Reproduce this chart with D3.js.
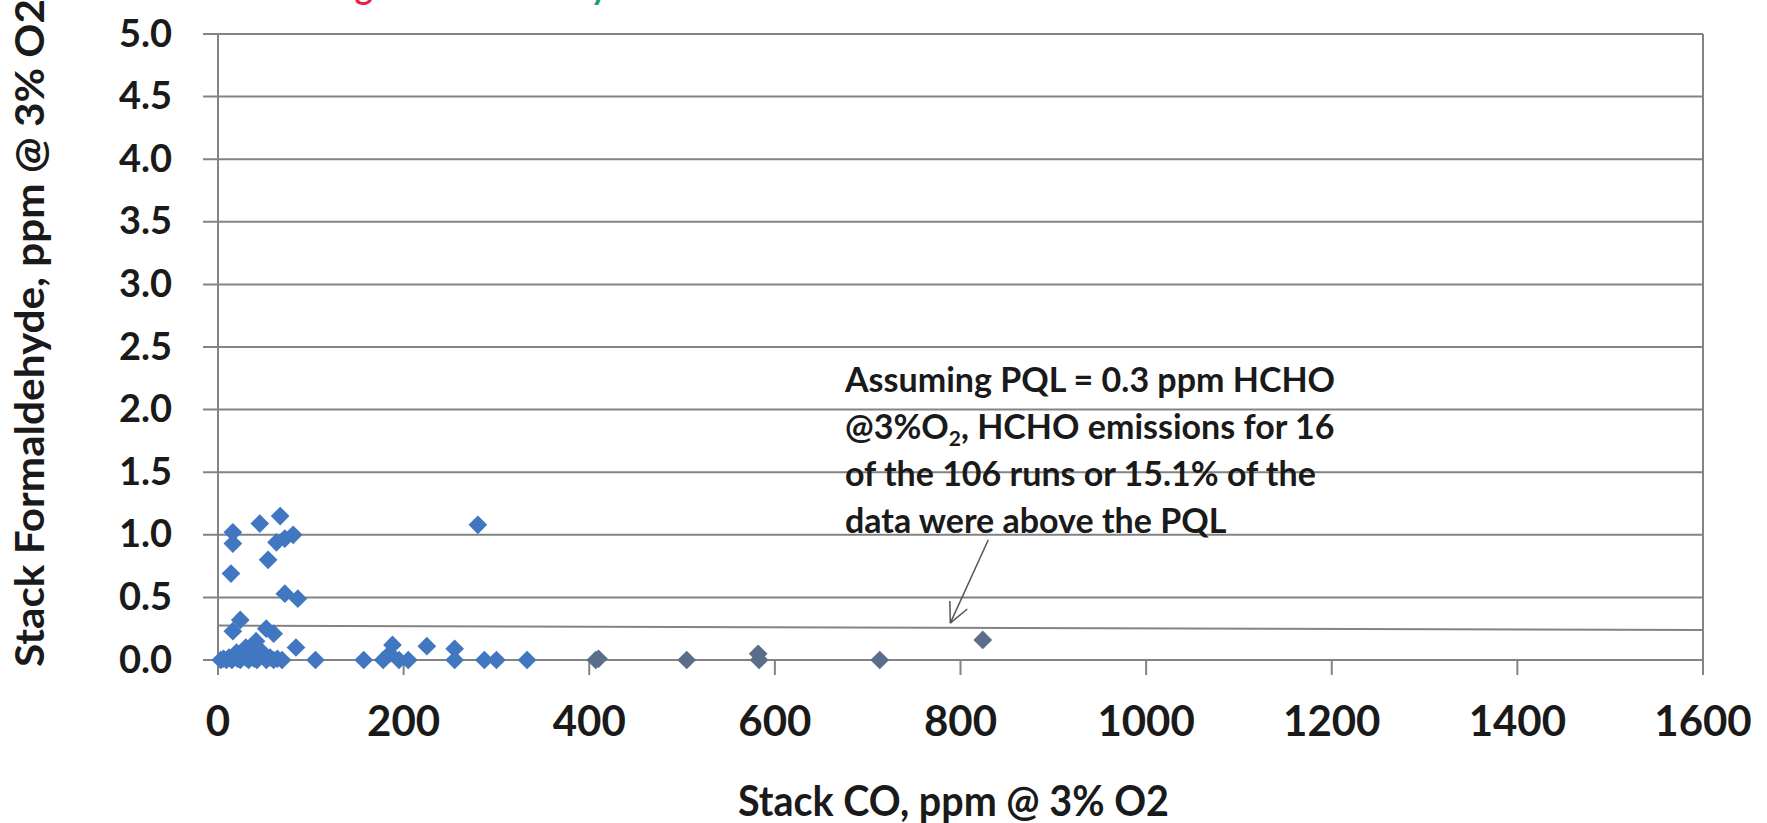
<!DOCTYPE html>
<html>
<head>
<meta charset="utf-8">
<script src="https://cdn.jsdelivr.net/npm/d3@7"></script>
<style>
  body { margin: 0; background: #ffffff; }
  svg { display: block; }
  text { font-family: Lato, 'Open Sans', sans-serif; font-weight: bold; fill: #1a1a1a; }
</style>
</head>
<body>
<svg id="chart" width="1767" height="823"></svg>
<script>
var xTicks = [0, 200, 400, 600, 800, 1000, 1200, 1400, 1600];
var yTicks = [0, 0.5, 1.0, 1.5, 2.0, 2.5, 3.0, 3.5, 4.0, 4.5, 5.0];

// stack CO (ppm @ 3% O2), stack formaldehyde (ppm @ 3% O2)
var runsLowCO = [
  [16, 1.02], [16, 0.93], [45, 1.09], [67, 1.15], [54, 0.80], [63, 0.94], [72, 0.97], [81, 1.00],
  [14, 0.69], [72, 0.53], [86, 0.49], [24, 0.32], [16, 0.23], [52, 0.25], [60, 0.21], [41, 0.15],
  [35, 0.08], [84, 0.10], [105, 0.0], [280, 1.08],
  [3, 0.0], [6, 0.01], [9, 0.0], [12, 0.02], [15, 0.0], [18, 0.03], [21, 0.01], [24, 0.0],
  [27, 0.04], [30, 0.02], [33, 0.0], [36, 0.05], [39, 0.01], [42, 0.0], [45, 0.03], [48, 0.06],
  [52, 0.0], [56, 0.02], [60, 0.0], [64, 0.01], [69, 0.0], [30, 0.10], [20, 0.06],
  [157, 0.0], [178, 0.0], [185, 0.05], [188, 0.12], [195, 0.0], [205, 0.0], [225, 0.11],
  [255, 0.09], [255, 0.0], [287, 0.0], [300, 0.0], [333, 0.0]
];
var runsHighCO = [[407, 0.0], [410, 0.01], [505, 0.0], [582, 0.05], [583, 0.0], [713, 0.0], [824, 0.16]];

var pqlLine = [[0, 0.275], [1600, 0.24]];
var arrowFrom = [830, 0.96];
var arrowTo = [789, 0.295];
var noteLines = [
  ['Assuming PQL = 0.3 ppm HCHO'],
  ['@3%O', '2', ', HCHO emissions for 16'],
  ['of the 106 runs or 15.1% of the'],
  ['data were above the PQL']
];

var xTitle = 'Stack CO, ppm @ 3% O2';
var yTitle = 'Stack Formaldehyde, ppm @ 3% O2';
var titleParts = ['Fig 2 - ', 'Formaldehyde Measurements vs. Stack CO at 3% O2 Correction'];

var svg = d3.select('#chart');
var plotLeft = 218, plotRight = 1703, plotTop = 34, plotBottom = 660;

var x = d3.scaleLinear().domain([0, 1600]).range([plotLeft, plotRight]);
var y = d3.scaleLinear().domain([0, 5]).range([plotBottom, plotTop]);

// title, cropped off the top of the picture: only descenders show
var title = svg.append('text').attr('x', 327).attr('y', -1).style('font-size', '34px');
title.append('tspan').style('fill', '#e0284f').text(titleParts[0]);
title.append('tspan').style('fill', '#1e9e6e').text(titleParts[1]);

svg.append('g')
   .selectAll('line')
   .data(yTicks)
   .enter().append('line')
   .attr('x1', plotLeft - 15).attr('x2', plotRight)
   .attr('y1', function(d) { return y(d); })
   .attr('y2', function(d) { return y(d); })
   .style('stroke', '#838383').style('stroke-width', 2);

svg.append('line')
   .attr('x1', plotLeft).attr('x2', plotLeft).attr('y1', plotTop).attr('y2', plotBottom)
   .style('stroke', '#838383').style('stroke-width', 2);
svg.append('line')
   .attr('x1', plotRight).attr('x2', plotRight).attr('y1', plotTop).attr('y2', plotBottom)
   .style('stroke', '#838383').style('stroke-width', 2);

svg.append('g')
   .selectAll('line')
   .data(xTicks)
   .enter().append('line')
   .attr('x1', function(d) { return x(d); })
   .attr('x2', function(d) { return x(d); })
   .attr('y1', plotBottom).attr('y2', plotBottom + 15)
   .style('stroke', '#838383').style('stroke-width', 2);

svg.append('g')
   .selectAll('text')
   .data(yTicks)
   .enter().append('text')
   .attr('x', 172)
   .attr('y', function(d) { return y(d); })
   .attr('dy', '0.33em')
   .attr('text-anchor', 'end')
   .style('font-size', '38px')
   .text(function(d) { return d3.format('.1f')(d); });

svg.append('g')
   .selectAll('text')
   .data(xTicks)
   .enter().append('text')
   .attr('x', function(d) { return x(d); })
   .attr('y', 736)
   .attr('text-anchor', 'middle')
   .style('font-size', '42px')
   .text(function(d) { return d; });

svg.append('text')
   .attr('x', 738).attr('y', 816)
   .attr('textLength', 431).attr('lengthAdjust', 'spacingAndGlyphs')
   .style('font-size', '42px')
   .text(xTitle);

svg.append('text')
   .attr('transform', 'translate(44,667) rotate(-90)')
   .attr('textLength', 668).attr('lengthAdjust', 'spacingAndGlyphs')
   .style('font-size', '40px')
   .text(yTitle);

var pql = d3.line()
  .x(function(d) { return x(d[0]); })
  .y(function(d) { return y(d[1]); });
svg.append('path')
   .attr('d', pql(pqlLine))
   .style('fill', 'none').style('stroke', '#838383').style('stroke-width', 2);

var diamond = d3.symbol().type(d3.symbolSquare).size(175);
function drawRuns(list, color) {
  svg.append('g')
     .selectAll('path')
     .data(list)
     .enter().append('path')
     .attr('d', diamond)
     .attr('transform', function(d) { return 'translate(' + x(d[0]) + ',' + y(d[1]) + ') rotate(45)'; })
     .style('fill', color);
}
drawRuns(runsLowCO, '#4077c0');
drawRuns(runsHighCO, '#5a6d8a');

// annotation and its arrow
var note = svg.append('g');
noteLines.forEach(function(parts, i) {
  var t = note.append('text').attr('x', 845).attr('y', 392 + i * 47).style('font-size', '34px');
  if (parts.length === 1) {
    t.text(parts[0]);
  } else {
    t.append('tspan').text(parts[0]);
    t.append('tspan').attr('dy', 7).style('font-size', '21px').text(parts[1]);
    t.append('tspan').attr('dy', -7).text(parts[2]);
  }
});

var ax0 = x(arrowFrom[0]), ay0 = y(arrowFrom[1]);
var ax1 = x(arrowTo[0]), ay1 = y(arrowTo[1]);
var ang = Math.atan2(ay0 - ay1, ax0 - ax1);
svg.append('line')
   .attr('x1', ax0).attr('y1', ay0).attr('x2', ax1).attr('y2', ay1)
   .style('stroke', '#555555').style('stroke-width', 1.5);
[-0.45, 0.45].forEach(function(da) {
  svg.append('line')
     .attr('x1', ax1).attr('y1', ay1)
     .attr('x2', ax1 + 22 * Math.cos(ang + da))
     .attr('y2', ay1 + 22 * Math.sin(ang + da))
     .style('stroke', '#555555').style('stroke-width', 1.5);
});
</script>
</body>
</html>
